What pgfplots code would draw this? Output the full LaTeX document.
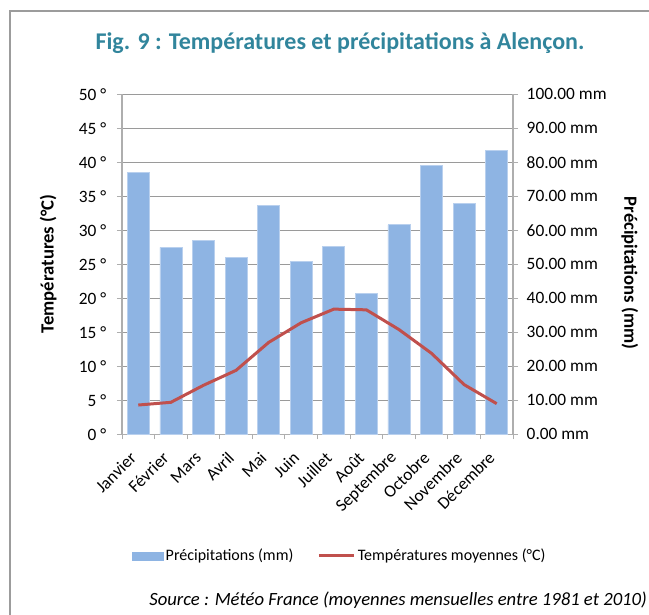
\documentclass[border=0pt]{standalone}
\usepackage{pgfplots}
\pgfplotsset{compat=1.18}
\usepackage{fontspec}
\setmainfont{Carlito}
\definecolor{barblue}{HTML}{8EB4E3}
\definecolor{baredge}{HTML}{B9D0EE}
\definecolor{linered}{HTML}{C0504D}
\definecolor{titleteal}{HTML}{31859C}
\definecolor{gridgray}{HTML}{9A9A9A}
\definecolor{axisgray}{HTML}{AEAEAE}
\definecolor{framegray}{HTML}{9C9C9C}
\begin{document}
\begin{tikzpicture}[x=0.75pt,y=0.75pt]
\useasboundingbox (0,0) rectangle (649,614);
\begin{scope}
\clip (0,0) rectangle (649,614);
\draw[framegray, line width=1.5pt] (9.5,-20) rectangle (670,602.5);
\end{scope}
\node[anchor=base, font=\fontsize{18}{21}\selectfont\bfseries, text=titleteal, inner sep=0pt] at (340,564) {Fig. 9 : Températures et précipitations à Alençon.};
\node[anchor=base east, font=\fontsize{14}{17}\selectfont\itshape, inner sep=0pt] at (647,9) {Source : Météo France (moyennes mensuelles entre 1981 et 2010)};
% Precipitation axis (right) with bars
\begin{axis}[
  at={(91.5pt,134.8pt)}, anchor=south west,
  scale only axis, width=293.25pt, height=255pt,
  xmin=-0.5, xmax=11.5, ymin=0, ymax=100,
  axis y line*=right, axis x line*=bottom,
  axis line style={draw=axisgray, line width=0.9pt},
  ytick={0,10,...,100},
  yticklabels={0.00 mm,10.00 mm,20.00 mm,30.00 mm,40.00 mm,50.00 mm,60.00 mm,70.00 mm,80.00 mm,90.00 mm,100.00 mm},
  yticklabel style={anchor=west, xshift=3pt, font=\fontsize{13}{15}\selectfont},
  ymajorgrids, grid style={draw=gridgray, line width=0.75pt},
  tick align=outside, major tick length=3.75pt, minor tick length=3.75pt,
  ytick style={draw=axisgray, line width=0.75pt},
  xtick={0,...,11},
  xticklabels={Janvier,Février,Mars,Avril,Mai,Juin,Juillet,Août,Septembre,Octobre,Novembre,Décembre},
  xticklabel style={yshift=-11pt, xshift=-3pt, rotate=45, anchor=east, font=\fontsize{13}{15}\selectfont, inner sep=1pt},
  minor xtick={-0.5,0.5,...,11.5},
  major x tick style={draw=none},
  minor x tick style={draw=axisgray, line width=0.75pt},
  every axis y label/.style={at={(axis description cs:1.299,0.474)}, anchor=center, rotate=-90, font=\fontsize{14}{17}\selectfont\bfseries},
  ylabel={Précipitations (mm)},
  ybar, bar width=16.5pt,
]
\addplot[fill=barblue, draw=baredge, line width=0.5pt] coordinates {
 (0,77.1) (1,55.0) (2,57.1) (3,51.9) (4,67.4) (5,50.9)
 (6,55.3) (7,41.4) (8,61.6) (9,79.1) (10,68.0) (11,83.6)};
\end{axis}
% Temperature axis (left) with line
\begin{axis}[
  at={(91.5pt,134.8pt)}, anchor=south west,
  scale only axis, width=293.25pt, height=255pt,
  xmin=-0.5, xmax=11.5, ymin=0, ymax=50,
  axis y line*=left, axis x line=none,
  axis line style={draw=axisgray, line width=0.9pt},
  ytick={0,5,...,50},
  yticklabels={0 °,5 °,10 °,15 °,20 °,25 °,30 °,35 °,40 °,45 °,50 °},
  yticklabel style={xshift=-4.5pt, font=\fontsize{13}{15}\selectfont},
  tick align=outside, major tick length=3.75pt,
  ytick style={draw=axisgray, line width=0.75pt},
  every axis y label/.style={at={(axis description cs:-0.189,0.501)}, anchor=center, rotate=90, font=\fontsize{14}{17}\selectfont\bfseries},
  ylabel={Températures (°C)},
  legend style={at={(axis description cs:0.5575,-0.358)}, anchor=center, draw=none, fill=none,
    legend columns=2, font=\fontsize{12}{14}\selectfont,
    /tikz/every even column/.append style={column sep=16pt},
    nodes={inner sep=2pt}},
  legend cell align=left,
]
\addlegendimage{legend image code/.code={\fill[barblue] (0pt,-3pt) rectangle (23pt,3pt);}}
\addlegendentry{Précipitations (mm)}
\addplot[color=linered, line width=2.25pt, mark=none,
  legend image code/.code={\draw[linered, line width=2.25pt] (0pt,0pt) -- (26pt,0pt);}] coordinates {
 (0,4.3) (1,4.7) (2,7.2) (3,9.4) (4,13.5) (5,16.4)
 (6,18.4) (7,18.3) (8,15.4) (9,11.9) (10,7.3) (11,4.5)};
\addlegendentry{Températures moyennes (°C)}
\end{axis}
\end{tikzpicture}
\end{document}
